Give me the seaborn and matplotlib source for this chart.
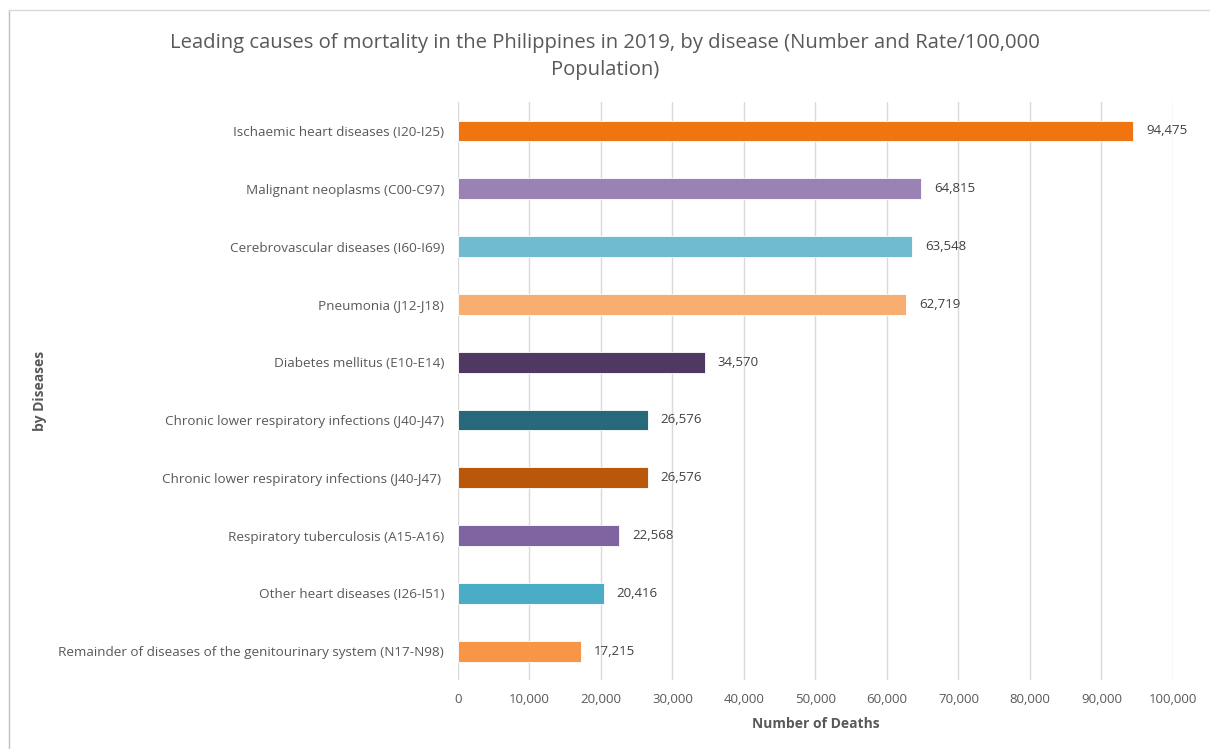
import pandas as pd
import matplotlib.pyplot as plt
import seaborn as sns
from matplotlib.ticker import FuncFormatter, MultipleLocator

# data
diseases = [
    "Ischaemic heart diseases (I20-I25)",
    "Malignant neoplasms (C00-C97)",
    "Cerebrovascular diseases (I60-I69)",
    "Pneumonia (J12-J18)",
    "Diabetes mellitus (E10-E14)",
    "Chronic lower respiratory infections (J40-J47)",
    "Chronic lower respiratory infections (J40-J47) ",
    "Respiratory tuberculosis (A15-A16)",
    "Other heart diseases (I26-I51)",
    "Remainder of diseases of the genitourinary system (N17-N98)",
]
deaths = [94475, 64815, 63548, 62719, 34570, 26576, 26576, 22568, 20416, 17215]
bar_colors = ["#F07410", "#9A82B4", "#70BBD0", "#F7AE70", "#4F3963",
              "#27687B", "#B9570A", "#8064A2", "#4BACC6", "#F79646"]

TXT = "#595959"
plt.rcParams['font.family'] = ['Open Sans', 'DejaVu Sans']

df = pd.DataFrame({"disease": diseases, "deaths": deaths})

fig = plt.figure(figsize=(12.1, 7.49), dpi=100)
ax = fig.add_axes([0.3785, 0.0921, 0.5909, 0.7717])

sns.barplot(data=df, x="deaths", y="disease", hue="disease", palette=bar_colors,
            legend=False, width=0.36, saturation=1, ax=ax,
            edgecolor="white", linewidth=0.6)

ax.set_xlim(0, 100000)
ax.xaxis.set_major_locator(MultipleLocator(10000))
ax.xaxis.set_major_formatter(FuncFormatter(lambda v, p: f"{int(v):,}"))
ax.grid(axis="x", color="#D9D9D9", linewidth=1)
ax.set_axisbelow(True)
for s in ax.spines.values():
    s.set_visible(False)
ax.tick_params(length=0, colors=TXT, labelsize=9.5)
ax.tick_params(axis="x", pad=9)
ax.tick_params(axis="y", pad=10, labelsize=9.7)

for c in ax.containers:
    ax.bar_label(c, labels=[f"{int(round(v)):,}" for v in c.datavalues], padding=9,
                 color="#404040", fontsize=9.5)

ax.set_xlabel("Number of Deaths", color=TXT, fontsize=10, fontweight="bold", labelpad=8)
ax.set_ylabel("by Diseases", color=TXT, fontsize=10, fontweight="bold")
ax.yaxis.set_label_coords(-0.575, 0.5)

fig.text(0.5, 0.942, "Leading causes of mortality in the Philippines in 2019, by disease (Number and Rate/100,000",
         ha="center", va="center", fontsize=14.6, color=TXT)
fig.text(0.5, 0.906, "Population)", ha="center", va="center", fontsize=14.6, color=TXT)

# faint frame at the top and left edges like the screenshot
fig.add_artist(plt.Line2D([0.0075, 0.0075], [0, 0.987], color="#BFBFBF", lw=1))
fig.add_artist(plt.Line2D([0.0075, 1], [0.987, 0.987], color="#D9D9D9", lw=1))

fig.savefig("out.png", dpi=100)
